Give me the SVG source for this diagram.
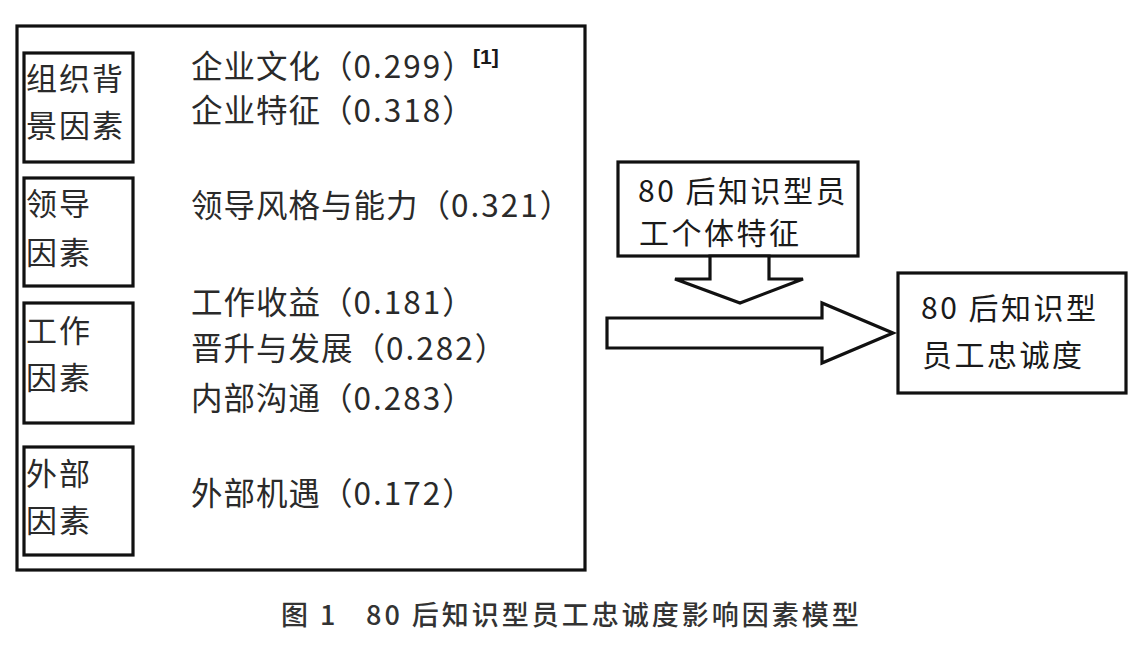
<svg xmlns="http://www.w3.org/2000/svg" width="1140" height="655" viewBox="0 0 1140 655">
<style>
.box{fill:none;stroke:#111;stroke-width:3.2}
.shape{fill:#fff;stroke:#111;stroke-width:3.2;stroke-linejoin:miter}
.bt{font-family:"Noto Sans CJK SC",sans-serif;font-size:31px;fill:#2a2a2a;letter-spacing:2px}
.lt{font-family:"Noto Sans CJK SC",sans-serif;font-size:31.5px;fill:#2a2a2a;letter-spacing:1px}
.num{letter-spacing:2px}
.st{font-family:"Noto Sans CJK SC",sans-serif;font-size:30px;fill:#1a1a1a;letter-spacing:2.5px}
.cap{font-family:"Noto Sans CJK SC",sans-serif;font-size:27px;fill:#333;font-weight:500;letter-spacing:3px}
</style>
<rect width="1140" height="655" fill="#fff"/>
<g id="outer">
<rect class="box" x="17" y="26" width="568" height="544"/>
</g>
<g id="org">
<rect class="box" x="24" y="53" width="109" height="109"/>
<text class="bt" x="26" y="90">组织背</text>
<text class="bt" x="26" y="137">景因素</text>
</g>
<g id="lead">
<rect class="box" x="24" y="178" width="109" height="108"/>
<text class="bt" x="26" y="215">领导</text>
<text class="bt" x="26" y="264">因素</text>
</g>
<g id="work">
<rect class="box" x="24" y="303" width="109" height="120"/>
<text class="bt" x="26" y="342">工作</text>
<text class="bt" x="26" y="389">因素</text>
</g>
<g id="ext">
<rect class="box" x="24" y="447" width="109" height="108"/>
<text class="bt" x="26" y="485">外部</text>
<text class="bt" x="26" y="532">因素</text>
</g>
<g id="factors">
<text class="lt" x="191" y="78">企业文化（<tspan class="num">0.299</tspan>）</text>
<text x="473" y="64" font-family="Liberation Sans, sans-serif" font-size="21" font-weight="bold" fill="#1a1a1a">[1]</text>
<text class="lt" x="191" y="122">企业特征（<tspan class="num">0.318</tspan>）</text>
<text class="lt" x="191" y="217">领导风格与能力（<tspan class="num">0.321</tspan>）</text>
<text class="lt" x="191" y="314">工作收益（<tspan class="num">0.181</tspan>）</text>
<text class="lt" x="191" y="360">晋升与发展（<tspan class="num">0.282</tspan>）</text>
<text class="lt" x="191" y="410">内部沟通（<tspan class="num">0.283</tspan>）</text>
<text class="lt" x="191" y="505">外部机遇（<tspan class="num">0.172</tspan>）</text>
</g>
<g id="individual">
<rect class="box" x="618" y="162" width="240" height="94"/>
<text class="st" x="638" y="202">80 后知识型员</text>
<text class="st" x="639" y="244">工个体特征</text>
</g>
<g id="loyalty">
<rect class="box" x="898" y="273" width="228" height="120"/>
<text class="st" x="921" y="319">80 后知识型</text>
<text class="st" x="922" y="366">员工忠诚度</text>
</g>
<g id="connectors">
<polygon class="shape" points="710,256 769,256 769,279 803,279 740,303 675,279 710,279"/>
<polygon class="shape" points="607,318 822,318 822,303 893,333 822,363 822,348 607,348"/>
</g>
<g id="caption">
<text class="cap" x="281" y="625">图 1</text>
<text class="cap" x="366" y="625">80 后知识型员工忠诚度影响因素模型</text>
</g>
</svg>
